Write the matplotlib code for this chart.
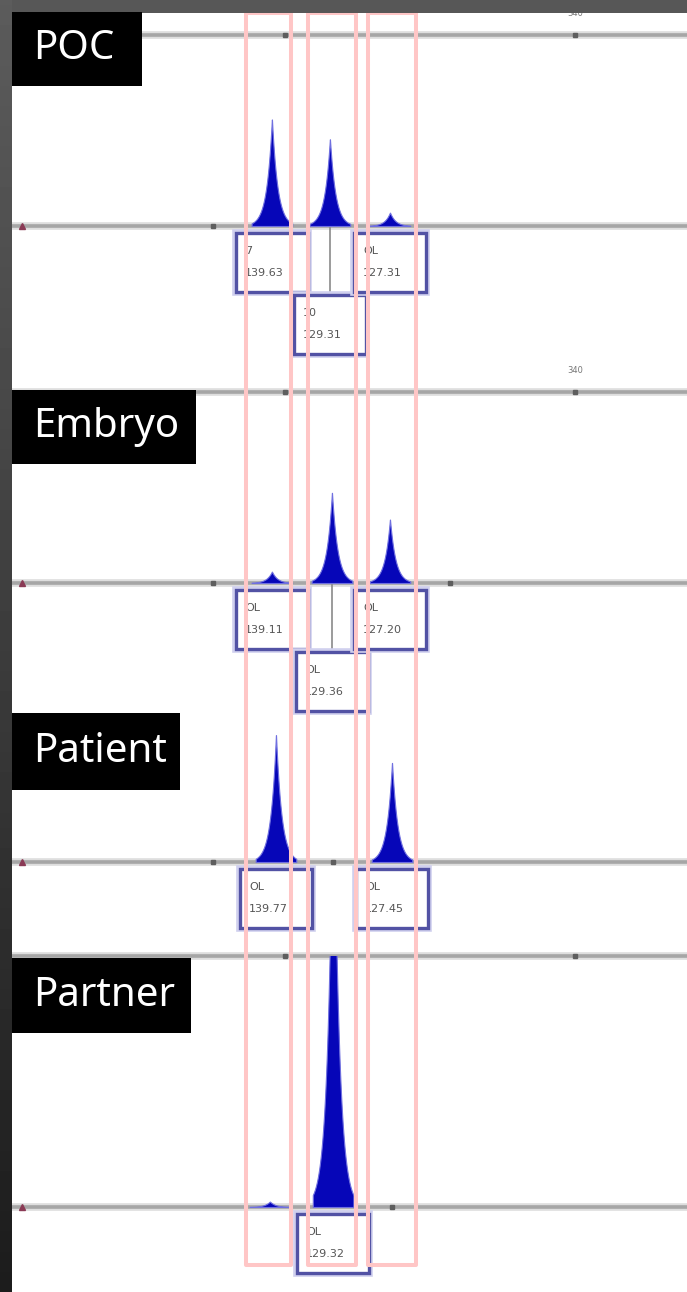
import matplotlib
matplotlib.use('Agg')
import matplotlib.pyplot as plt
import numpy as np
from matplotlib.patches import Rectangle

W, H = 687, 1292

# size axis (bp) and allele bins
XMIN, XMAX = 320.59, 343.86
bin_lo = [328.66, 330.79, 332.86]
bin_hi = [330.21, 332.45, 334.52]

# called peaks: size (bp), height (RFU), allele call, sizing
poc_size = [329.55, 331.55, 333.62]
poc_height = [2150, 1750, 270]
poc_call = ['7', '10', 'OL']
poc_bp = ['139.63', '129.31', '127.31']

emb_size = [329.55, 331.62, 333.62]
emb_height = [230, 1820, 1280]
emb_call = ['OL', 'OL', 'OL']
emb_bp = ['139.11', '129.36', '127.20']

pat_size = [329.69, 333.69]
pat_height = [2560, 2000]
pat_call = ['OL', 'OL']
pat_bp = ['139.77', '127.45']

par_size = [331.66]
par_height = [9500]
par_call = ['OL']
par_bp = ['129.32']

# small uncalled bumps
par_minor_size = [329.48]
par_minor_height = [110]

sizes = [poc_size, emb_size, pat_size, par_size]
heights = [poc_height, emb_height, pat_height, par_height]
calls = [poc_call, emb_call, pat_call, par_call]
bps = [poc_bp, emb_bp, pat_bp, par_bp]
box_rows = [[0, 1, 0], [0, 1, 0], [0, 0], [0]]

# baseline tick marks (bp)
base_ticks = [[327.52], [327.52, 335.69], [327.52, 331.66], [333.69]]
top_ticks = [330.0, 340.0]

names = ['POC', 'Embryo', 'Patient', 'Partner']

# panel layout in pixels: top line, baseline, bottom
panel_px = [(35, 226, 370), (392, 583, 725), (720, 862, 945), (956, 1207, 1285)]
has_top = [True, True, False, True]
name_box_px = [(12, 86, 142), (390, 464, 196), (713, 790, 180), (958, 1033, 191)]

S = 20.0          # RFU per pixel
PXBP = (W - 12) / (XMAX - XMIN)

fig = plt.figure(figsize=(W / 100, H / 100), dpi=100)
fig.patch.set_facecolor('white')


def fy(py):
    return 1 - py / H


for i in range(4):
    top, base, bot = panel_px[i]
    ax = fig.add_axes([12 / W, fy(bot), (W - 12) / W, (bot - top) / H])
    ax.set_xlim(XMIN, XMAX)
    ax.set_ylim(-(bot - base) * S, (base - top) * S)
    ax.axis('off')

    # baseline
    ax.axhline(0, color='#dedede', lw=5.5, zorder=1)
    ax.axhline(0, color='#a6a6a6', lw=2.6, zorder=1)
    ax.plot([320.93], [0], marker='^', ms=5, color='#8a3a55', zorder=3)
    ax.plot(base_ticks[i], [0] * len(base_ticks[i]), 's', ms=3.5, color='#5e5e5e', zorder=3)

    if has_top[i]:
        ytop = (base - top) * S
        ax.axhline(ytop, color='#dedede', lw=5.5, zorder=1, clip_on=False)
        ax.axhline(ytop, color='#a6a6a6', lw=2.6, zorder=1, clip_on=False)
        ax.plot(top_ticks, [ytop] * 2, 's', ms=3.5, color='#5e5e5e', clip_on=False, zorder=3)
        if i < 2:
            ax.text(top_ticks[1], ytop + 22 * S, '340', fontsize=6, color='#777777',
                    ha='center', va='center', clip_on=False)

    # peaks
    for mu, h in list(zip(sizes[i], heights[i])) + (
            list(zip(par_minor_size, par_minor_height)) if i == 3 else []):
        x = np.linspace(mu - 0.7, mu + 0.7, 400)
        y = h * np.exp(-np.abs(x - mu) / 0.19)
        ax.fill_between(x, 0, y, facecolor='#0606b8', edgecolor='#7070e0', lw=0.8, zorder=4)

    # allele label boxes
    half = 36 / PXBP
    for mu, call, bp, row in zip(sizes[i], calls[i], bps[i], box_rows[i]):
        btop = -(7 + 62 * row) * S
        bh = 59 * S
        if row == 1:
            ax.plot([mu, mu], [0, btop], color='#8a8a8a', lw=1.2, zorder=2, clip_on=False)
        ax.add_patch(Rectangle((mu - half, btop - bh), 2 * half, bh, facecolor='white',
                               edgecolor='#d0d0ee', lw=5.5, zorder=5, clip_on=False))
        ax.add_patch(Rectangle((mu - half, btop - bh), 2 * half, bh, facecolor='white',
                               edgecolor='#5252a4', lw=2.4, zorder=5, clip_on=False))
        ax.text(mu - half + 9 / PXBP, btop - 18 * S, call, fontsize=8, color='#555555',
                ha='left', va='center', zorder=6, clip_on=False)
        ax.text(mu - half + 9 / PXBP, btop - 40 * S, bp, fontsize=8, color='#555555',
                ha='left', va='center', zorder=6, clip_on=False)

# pink bin rectangles across all panels
ov = fig.add_axes([12 / W, 0, (W - 12) / W, 1], zorder=5)
ov.set_xlim(XMIN, XMAX)
ov.set_ylim(H, 0)
ov.axis('off')
ov.patch.set_alpha(0)
for lo, hi in zip(bin_lo, bin_hi):
    ov.add_patch(Rectangle((lo, 13), hi - lo, 1252, fill=False, edgecolor='#ffc6c6',
                           lw=2.9, joinstyle='round'))

# dark frame: top band and left gradient strip
fig.add_artist(Rectangle((0, fy(13)), 1, 13 / H, transform=fig.transFigure,
                         facecolor='#575757', edgecolor='none', zorder=8))
strip = fig.add_axes([0, 0, 12 / W, 1], zorder=9)
grad = np.linspace(0.36, 0.11, 256).reshape(-1, 1)
strip.imshow(grad, cmap='gray', vmin=0, vmax=1, aspect='auto')
strip.axis('off')

# sample name labels
for name, (t, b, r) in zip(names, name_box_px):
    fig.add_artist(Rectangle((12 / W, fy(b)), (r - 12) / W, (b - t) / H,
                             transform=fig.transFigure, facecolor='black',
                             edgecolor='none', zorder=10))
    fig.text(33 / W, fy((t + b) / 2), name, fontsize=29, color='white',
             family='Noto Sans', ha='left', va='center', zorder=11)

fig.savefig('out.png', dpi=100, facecolor='white')
plt.close(fig)
